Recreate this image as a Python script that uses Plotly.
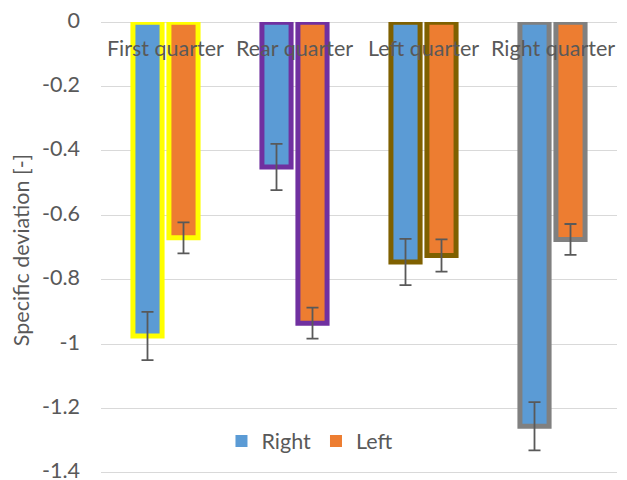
import plotly.graph_objects as go

categories = ["First quarter", "Rear quarter", "Left quarter", "Right quarter"]
right_values = [-0.975, -0.45, -0.745, -1.255]
right_errors = [0.075, 0.072, 0.072, 0.075]
left_values = [-0.67, -0.935, -0.725, -0.675]
left_errors = [0.048, 0.048, 0.05, 0.048]
border_colors = ["#FFFF00", "#7030A0", "#7F6000", "#808080"]
y_ticks = [0, -0.2, -0.4, -0.6, -0.8, -1, -1.2, -1.4]
y_tick_labels = ["0", "-0.2", "-0.4", "-0.6", "-0.8", "-1", "-1.2", "-1.4"]

FONT = "Lato, Carlito, Calibri, sans-serif"
TXT = "#595959"
ERR = "#595959"
FS = 21.5

fig = go.Figure()
for name, vals, errs, col in [("Right", right_values, right_errors, "#5B9BD5"),
                              ("Left", left_values, left_errors, "#ED7D31")]:
    fig.add_trace(go.Bar(
        x=categories, y=vals, name=name, showlegend=False, offsetgroup=name,
        marker=dict(color=col, line=dict(color=border_colors, width=5)),
        error_y=dict(type="data", array=errs, visible=True, color=ERR, thickness=1.8, width=6),
    ))
    fig.add_trace(go.Bar(x=[None], y=[None], name=name, showlegend=True, offsetgroup=name,
                         marker=dict(color=col, line=dict(width=0))))

for c in categories:
    fig.add_annotation(x=c, y=0, xref="x", yref="y", text=c, showarrow=False,
                       yanchor="top", yshift=-11, font=dict(size=FS, color=TXT, family=FONT))

fig.update_layout(
    width=619, height=472,
    margin=dict(l=93, r=9.5, t=14, b=2),
    paper_bgcolor="white", plot_bgcolor="white",
    barmode="group", bargap=0.442, bargroupgap=0.19,
    font=dict(family=FONT, size=FS, color=TXT),
    legend=dict(orientation="h", x=0.405, y=0.081, xanchor="center", yanchor="middle",
                bgcolor="rgba(0,0,0,0)", font=dict(size=FS, color=TXT),
                itemwidth=30, tracegroupgap=0),
    xaxis=dict(showticklabels=False, showgrid=False, showline=False, zeroline=False,
               ticks="", automargin=False,
               categoryorder="array", categoryarray=categories),
    yaxis=dict(range=[-1.416, 0.0005], tickvals=y_ticks, ticktext=y_tick_labels,
               showgrid=True, gridcolor="#D9D9D9", gridwidth=1.3,
               zeroline=True, zerolinecolor="#D9D9D9", zerolinewidth=1.3,
               showline=False, ticks="", tickfont=dict(size=FS, color=TXT),
               ticklabelstandoff=20, ticklabelshift=-2, ticklabeloverflow="allow",
               automargin=False,
               title=dict(text="Specific deviation [-]", font=dict(size=FS, color=TXT), standoff=6)),
)
fig.write_html("out.html")
